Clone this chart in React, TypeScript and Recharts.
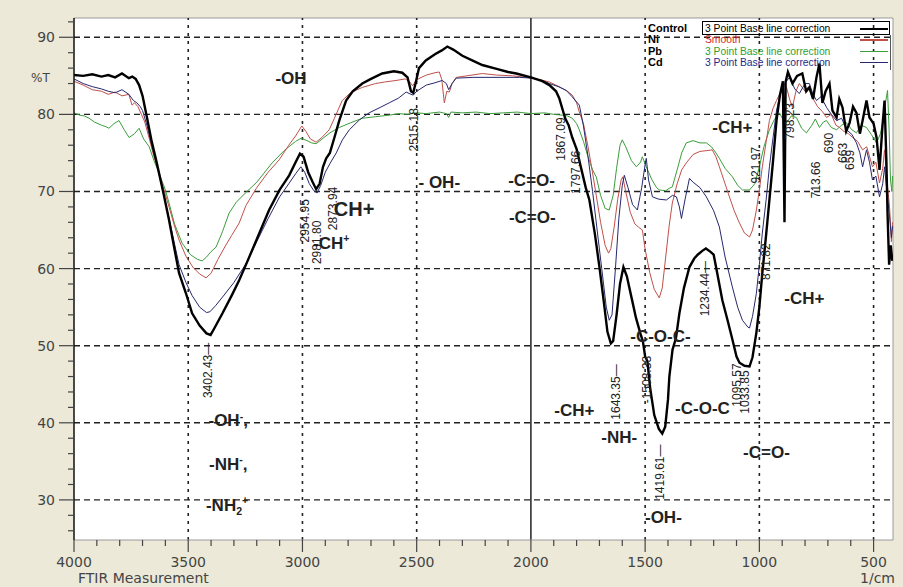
import React from "react";
import {
  CartesianGrid,
  Line,
  LineChart,
  ReferenceDot,
  ReferenceLine,
  XAxis,
  YAxis,
} from "recharts";

type Pt = [number, number]; // [wavenumber 1/cm, %T]

const CONTROL: Pt[] = [
  [4000, 85.1], [3960, 85.0], [3920, 85.2], [3880, 84.9], [3850, 85.1], [3820, 84.8], [3790, 85.3], [3760, 84.7],
  [3745, 84.9], [3730, 84.6], [3715, 83.8], [3700, 82.4], [3680, 79.5], [3660, 76.5], [3640, 74.0], [3610, 70.0],
  [3584, 66.3], [3560, 62.5], [3540, 59.4], [3510, 56.8], [3483, 54.2], [3450, 52.6], [3420, 51.6], [3402, 51.4],
  [3385, 52.3], [3350, 54.2], [3310, 56.5], [3277, 58.5], [3240, 61.0], [3200, 63.8], [3146, 67.6], [3100, 70.2],
  [3058, 72.1], [3030, 73.8], [3011, 74.9], [2995, 74.5], [2975, 72.5], [2955, 71.2], [2940, 70.3], [2925, 71.0],
  [2910, 73.2], [2896, 74.3], [2880, 75.0], [2860, 77.0], [2839, 79.2], [2809, 81.8], [2780, 83.0], [2738, 84.0],
  [2700, 84.6], [2651, 85.3], [2600, 85.6], [2563, 85.4], [2540, 84.8], [2525, 83.0], [2515, 82.8], [2505, 84.0],
  [2490, 86.0], [2460, 87.0], [2420, 87.8], [2390, 88.3], [2366, 88.8], [2340, 88.4], [2300, 87.6], [2250, 86.9],
  [2213, 86.4], [2150, 85.9], [2100, 85.5], [2064, 85.3], [2000, 84.8], [1950, 84.3], [1919, 83.8], [1890, 83.0],
  [1876, 82.1], [1867, 81.2], [1850, 79.5], [1835, 78.6], [1819, 77.0], [1800, 75.5], [1780, 73.0], [1760, 70.5],
  [1744, 68.9], [1720, 64.5], [1700, 60.2], [1680, 55.5], [1665, 51.8], [1650, 50.3], [1640, 50.6], [1625, 54.0],
  [1610, 58.0], [1595, 60.2], [1580, 59.0], [1560, 56.3], [1540, 53.6], [1520, 51.5], [1510, 50.6], [1500, 48.6],
  [1490, 48.0], [1478, 44.5], [1460, 41.0], [1440, 39.2], [1425, 38.6], [1412, 39.5], [1400, 43.0], [1394, 46.0],
  [1380, 49.5], [1365, 51.0], [1350, 54.2], [1330, 57.5], [1306, 60.2], [1285, 61.3], [1270, 61.8], [1250, 62.3],
  [1234, 62.6], [1215, 62.2], [1200, 61.8], [1185, 59.5], [1162, 55.9], [1140, 53.4], [1118, 50.8], [1100, 48.6],
  [1087, 47.8], [1065, 47.4], [1043, 47.3], [1030, 48.5], [1013, 51.7], [1000, 55.0], [987, 59.4], [970, 64.5],
  [956, 68.9], [940, 74.0], [925, 79.2], [910, 82.5], [897, 84.3], [890, 66.0], [885, 84.2], [875, 85.5],
  [855, 84.0], [835, 85.0], [812, 85.3], [795, 83.0], [781, 83.5], [765, 82.0], [750, 84.8], [737, 86.6],
  [724, 81.5], [710, 83.0], [693, 84.0], [680, 80.5], [662, 79.6], [650, 82.0], [636, 80.9], [620, 77.8],
  [605, 78.9], [590, 81.0], [575, 80.2], [560, 77.5], [548, 79.2], [531, 81.8], [518, 79.6], [500, 78.8],
  [487, 77.0], [474, 72.8], [461, 78.5], [452, 81.8], [444, 74.0], [439, 67.2], [432, 60.5], [425, 63.0], [418, 61.0],
];

const NI: Pt[] = [
  [4000, 84.3], [3960, 83.8], [3920, 83.2], [3880, 83.0], [3850, 82.6], [3820, 82.9], [3790, 82.4], [3760, 82.6],
  [3746, 81.2], [3735, 81.5], [3720, 81.0], [3705, 80.0], [3690, 79.0], [3670, 76.8], [3650, 74.5], [3628, 72.5],
  [3600, 69.6], [3584, 68.0], [3560, 65.5], [3540, 63.7], [3510, 61.6], [3480, 60.2], [3450, 59.3], [3422, 58.8],
  [3400, 59.4], [3370, 61.2], [3340, 62.8], [3310, 64.3], [3277, 65.9], [3247, 68.2], [3200, 70.5], [3150, 72.5],
  [3102, 74.1], [3060, 76.0], [3030, 77.2], [3003, 78.5], [2985, 77.8], [2965, 76.8], [2940, 76.4], [2915, 77.0],
  [2883, 78.0], [2860, 79.5], [2826, 81.8], [2790, 82.8], [2738, 83.5], [2680, 84.0], [2640, 84.2], [2590, 84.4],
  [2550, 84.6], [2530, 84.2], [2518, 83.7], [2500, 84.5], [2458, 85.1], [2420, 85.4], [2401, 85.5], [2390, 84.5],
  [2379, 81.5], [2368, 83.0], [2357, 82.9], [2345, 84.0], [2327, 84.8], [2280, 85.0], [2213, 85.3], [2150, 85.1],
  [2080, 85.0], [2020, 84.8], [1960, 84.5], [1919, 84.2], [1870, 83.5], [1840, 83.0], [1819, 82.5], [1800, 81.5],
  [1788, 80.3], [1770, 78.8], [1750, 75.8], [1730, 72.4], [1714, 69.5], [1695, 66.0], [1675, 63.0], [1660, 62.0],
  [1650, 62.6], [1635, 65.5], [1620, 69.0], [1605, 71.5], [1598, 71.9], [1585, 70.0], [1565, 67.3], [1545, 65.8],
  [1530, 65.4], [1512, 65.0], [1500, 62.5], [1480, 59.5], [1460, 57.3], [1438, 56.2], [1425, 57.5], [1410, 61.5],
  [1395, 65.5], [1381, 68.5], [1360, 71.0], [1340, 72.8], [1320, 73.7], [1290, 74.8], [1260, 75.2], [1230, 75.3],
  [1206, 75.4], [1190, 74.5], [1175, 73.2], [1150, 71.0], [1131, 69.3], [1110, 67.5], [1087, 65.9], [1065, 64.6],
  [1043, 64.1], [1030, 65.0], [1013, 67.6], [1000, 70.2], [987, 73.2], [970, 76.5], [956, 79.2], [940, 80.8],
  [925, 81.8], [905, 83.0], [890, 83.8], [881, 83.5], [868, 82.0], [855, 80.9], [840, 83.0], [825, 84.0],
  [800, 83.0], [785, 83.6], [768, 82.2], [745, 81.0], [725, 80.4], [706, 79.6], [685, 80.0], [665, 78.6],
  [649, 78.3], [630, 77.8], [610, 77.5], [592, 77.0], [570, 76.5], [548, 75.4], [530, 75.8], [505, 73.2],
  [490, 73.8], [474, 71.1], [460, 73.0], [452, 75.4], [440, 71.0], [430, 68.0], [422, 63.5], [417, 66.0],
];

const PB: Pt[] = [
  [4000, 80.2], [3975, 79.9], [3955, 79.8], [3934, 79.5], [3910, 79.0], [3880, 78.6], [3860, 78.4], [3847, 78.2],
  [3825, 78.8], [3803, 79.2], [3780, 78.0], [3759, 77.0], [3735, 77.5], [3715, 78.2], [3695, 76.8], [3671, 75.8],
  [3650, 74.0], [3628, 72.4], [3600, 70.2], [3584, 68.5], [3560, 65.8], [3527, 63.3], [3490, 61.8], [3460, 61.2],
  [3439, 61.0], [3420, 61.5], [3400, 62.2], [3378, 62.8], [3350, 64.8], [3321, 67.2], [3290, 68.6], [3250, 69.8],
  [3200, 71.2], [3133, 73.7], [3080, 75.3], [3030, 76.5], [3006, 76.9], [2980, 76.6], [2960, 76.3], [2940, 76.2],
  [2910, 76.9], [2880, 77.6], [2839, 78.3], [2790, 78.9], [2738, 79.5], [2680, 79.7], [2620, 79.9], [2576, 80.1],
  [2540, 80.0], [2500, 80.2], [2460, 80.1], [2400, 80.3], [2370, 80.1], [2360, 79.6], [2350, 80.3], [2300, 80.2],
  [2240, 80.3], [2180, 80.1], [2120, 80.2], [2060, 80.3], [2000, 80.1], [1940, 80.2], [1900, 80.0], [1862, 79.9],
  [1840, 79.8], [1819, 79.5], [1800, 78.8], [1788, 78.0], [1770, 76.5], [1750, 74.5], [1730, 72.8], [1714, 71.9],
  [1695, 69.5], [1675, 67.8], [1657, 67.6], [1640, 69.5], [1625, 73.0], [1610, 76.0], [1600, 76.7], [1585, 75.8],
  [1560, 74.0], [1538, 73.2], [1520, 73.8], [1512, 74.5], [1495, 73.2], [1470, 71.5], [1450, 70.5], [1438, 70.2],
  [1410, 70.1], [1395, 70.4], [1381, 70.6], [1360, 72.8], [1340, 75.0], [1320, 76.3], [1290, 76.6], [1260, 76.3],
  [1232, 76.3], [1210, 75.8], [1190, 75.0], [1175, 74.3], [1150, 73.0], [1118, 71.9], [1095, 70.8], [1074, 70.2],
  [1043, 70.2], [1020, 71.0], [1000, 73.2], [980, 75.8], [956, 78.0], [935, 79.3], [912, 80.2], [900, 79.5],
  [881, 78.9], [860, 79.8], [838, 79.6], [815, 78.2], [794, 77.6], [770, 78.6], [755, 79.4], [737, 78.3],
  [720, 79.0], [706, 79.2], [685, 78.3], [662, 78.0], [640, 78.6], [618, 78.9], [595, 78.0], [575, 77.6],
  [555, 78.6], [531, 78.3], [510, 77.4], [487, 76.3], [470, 77.5], [461, 78.9], [448, 81.5], [439, 83.1],
  [432, 78.0], [426, 71.5], [420, 70.0], [417, 72.0],
];

const CD: Pt[] = [
  [4000, 84.6], [3960, 84.0], [3920, 83.6], [3880, 83.3], [3850, 83.0], [3820, 82.8], [3790, 83.2], [3760, 82.6],
  [3740, 81.8], [3725, 81.5], [3710, 81.0], [3700, 80.5], [3680, 78.5], [3660, 76.0], [3640, 73.8], [3610, 70.0],
  [3584, 66.5], [3560, 63.2], [3540, 60.5], [3510, 58.2], [3483, 56.5], [3450, 55.0], [3420, 54.3], [3405, 54.4],
  [3380, 55.2], [3350, 56.3], [3300, 58.2], [3250, 60.5], [3200, 63.5], [3150, 66.5], [3100, 69.3], [3060, 71.0],
  [3030, 72.3], [3007, 73.2], [2990, 72.5], [2970, 71.0], [2950, 70.1], [2936, 69.8], [2920, 70.8], [2900, 72.5],
  [2880, 73.6], [2852, 75.0], [2825, 76.7], [2795, 78.0], [2750, 79.3], [2708, 80.2], [2660, 80.9], [2620, 81.5],
  [2580, 82.1], [2546, 82.9], [2525, 82.6], [2515, 82.5], [2500, 83.0], [2458, 83.8], [2420, 84.1], [2388, 84.4],
  [2370, 84.0], [2360, 83.2], [2345, 84.0], [2327, 84.7], [2250, 84.8], [2139, 84.8], [2050, 84.8], [1994, 84.7],
  [1950, 84.4], [1919, 84.0], [1880, 83.6], [1845, 83.1], [1820, 82.3], [1788, 81.2], [1770, 78.5], [1750, 74.5],
  [1730, 70.0], [1710, 65.0], [1690, 60.0], [1670, 55.0], [1657, 53.3], [1645, 54.0], [1630, 60.0], [1615, 66.5],
  [1600, 70.8], [1591, 72.1], [1575, 70.5], [1555, 68.3], [1534, 67.6], [1515, 70.5], [1500, 73.5], [1495, 74.3],
  [1485, 71.5], [1468, 69.3], [1440, 69.0], [1407, 68.9], [1380, 69.5], [1363, 69.3], [1350, 68.0], [1341, 66.5],
  [1325, 69.0], [1306, 71.7], [1290, 71.2], [1260, 70.5], [1232, 69.3], [1200, 67.5], [1175, 65.4], [1150, 61.5],
  [1118, 57.6], [1095, 55.0], [1074, 53.3], [1050, 52.4], [1043, 52.3], [1030, 53.8], [1013, 56.8], [1000, 60.5],
  [987, 64.6], [970, 69.0], [956, 73.2], [940, 77.0], [925, 80.5], [905, 83.0], [890, 84.0], [868, 84.8],
  [845, 83.3], [825, 82.7], [800, 84.0], [781, 84.0], [765, 82.6], [750, 81.8], [730, 82.3], [706, 80.9],
  [685, 80.0], [662, 79.2], [640, 79.5], [618, 78.0], [595, 77.4], [575, 76.3], [560, 75.0], [548, 73.2],
  [531, 75.4], [518, 73.8], [505, 71.5], [490, 72.0], [474, 69.3], [460, 71.0], [452, 73.2], [440, 69.5],
  [430, 66.7], [422, 64.0], [417, 65.5],
];

const X_TICKS = [
  4000, 3900, 3800, 3700, 3600, 3500, 3400, 3300, 3200, 3100, 3000, 2900, 2800, 2700, 2600, 2500, 2400, 2300,
  2200, 2100, 2000, 1900, 1800, 1700, 1600, 1500, 1400, 1300, 1200, 1100, 1000, 900, 800, 700, 600, 500,
];
const Y_TICKS = [
  26, 28, 30, 32, 34, 36, 38, 40, 42, 44, 46, 48, 50, 52, 54, 56, 58, 60, 62, 64, 66, 68, 70, 72, 74, 76, 78,
  80, 82, 84, 86, 88, 90, 92,
];
const X_GRID = [3500, 3000, 2500, 1500, 1000, 500];
const Y_GRID = [90, 80, 70, 60, 50, 40, 30];

// group annotations: text (^x superscript, _x subscript), wavenumber, %T
const GROUPS: [string, number, number][] = [
  ["-OH", 3050, 84.7],
  ["CH+", 2774, 67.6],
  ["-CH^+", 2874, 63.3],
  ["- OH-", 2401, 71.2],
  ["-C=O-", 1997, 71.5],
  ["-C=O-", 1994, 66.7],
  ["-CH+", 1118, 78.3],
  ["-CH+", 803, 56.2],
  ["-C-O-C-", 1433, 51.3],
  ["-C-O-C", 1249, 41.9],
  ["-CH+", 1810, 41.7],
  ["-NH-", 1613, 38.2],
  ["-OH-", 1420, 27.8],
  ["-C=O-", 969, 36.2],
  ["-OH^-,", 3325, 40.3],
  ["-NH^-,", 3325, 34.7],
  ["-NH_2^+", 3330, 29.4],
];

// peak position labels (drawn vertically)
const PEAKS: [string, number, number][] = [
  ["3402.43\u2014", 3413, 46.8],
  ["2954.95", 2988, 66.2],
  ["2981.80", 2936, 63.4],
  ["2873.94", 2866, 67.8],
  ["2515.18", 2511, 78.0],
  ["1867.09", 1867, 76.8],
  ["1797.66", 1801, 72.5],
  ["1643.35\u2014", 1626, 44.0],
  ["-1508.33", 1490, 45.6],
  ["1419.61\u2014", 1433, 33.6],
  ["1234.44\u2014", 1236, 57.4],
  ["1095.57", 1100, 44.9],
  ["1033.85", 1065, 44.0],
  ["921.97", 1013, 73.4],
  ["871.82", 969, 60.9],
  ["798.23", 864, 79.1],
  ["713.66", 750, 71.5],
  ["690", 693, 76.3],
  ["663", 636, 75.0],
  ["659", 605, 74.1],
];

const X_DOMAIN: [number, number] = [415, 4000];
const Y_DOMAIN: [number, number] = [24.8, 92.5];

const SERIES = [
  { name: "Pb", note: "3 Point Base line correction", color: "#3a9e3a", text: "#2fa02f", width: 1, data: PB },
  { name: "Ni", note: "Smooth", color: "#c0504a", text: "#d02a2a", width: 1, data: NI },
  { name: "Cd", note: "3 Point Base line correction", color: "#26276e", text: "#1e2a8a", width: 1, data: CD },
  { name: "Control", note: "3 Point Base line correction", color: "#000000", text: "#000000", width: 2.4, data: CONTROL },
];
const LEGEND_ORDER = ["Control", "Ni", "Pb", "Cd"];

const toRows = (pts: Pt[]) => pts.map(([w, t]) => ({ w, t }));

function rich(s: string, size: number) {
  const parts: React.ReactNode[] = [];
  let buf = "";
  let shift = 0;
  const flush = () => {
    if (buf) {
      parts.push(
        <tspan key={parts.length} dy={-shift} fontSize={size}>
          {buf}
        </tspan>
      );
      shift = 0;
      buf = "";
    }
  };
  for (let i = 0; i < s.length; i++) {
    const c = s[i];
    if ((c === "^" || c === "_") && i + 1 < s.length) {
      flush();
      const target = c === "^" ? -size * 0.4 : size * 0.25;
      parts.push(
        <tspan key={parts.length} dy={target - shift} fontSize={size * 0.62}>
          {s[i + 1]}
        </tspan>
      );
      shift = target;
      i++;
    } else {
      buf += c;
    }
  }
  flush();
  return parts;
}

function YTick(props: any) {
  const { x, y, payload } = props;
  const v = payload.value;
  const major = v % 10 === 0;
  return (
    <g>
      <line x1={x - (major ? 15 : 6)} x2={x} y1={y} y2={y} stroke="#444" strokeWidth={1.2} />
      {major && (
        <text x={x - 19} y={y + 5} textAnchor="end" fontSize={14} fill="#444" fontFamily="DejaVu Sans">
          {v}
        </text>
      )}
    </g>
  );
}

function XTick(props: any) {
  const { x, y, payload } = props;
  const v = payload.value;
  const major = v % 500 === 0;
  return (
    <g>
      <line x1={x} x2={x} y1={y} y2={y + (major ? 12 : 6)} stroke="#444" strokeWidth={1.2} />
      {major && (
        <text x={x} y={y + 27} textAnchor="middle" fontSize={14} fill="#444" fontFamily="DejaVu Sans">
          {v}
        </text>
      )}
    </g>
  );
}

export default function App() {
  return (
    <div
      style={{
        position: "absolute",
        left: 0,
        top: 0,
        width: 903,
        height: 587,
        background: "#ECE9D8",
        overflow: "hidden",
      }}
    >
      <LineChart width={903} height={587} margin={{ top: 18, right: 10, bottom: 0, left: 0 }}>
        <CartesianGrid horizontal={false} vertical={false} fill="#ffffff" />
        <XAxis
          dataKey="w"
          type="number"
          domain={X_DOMAIN}
          reversed
          allowDataOverflow
          ticks={X_TICKS}
          interval={0}
          tick={<XTick />}
          tickLine={false}
          tickSize={0}
          tickMargin={0}
          height={47}
          axisLine={{ stroke: "#9a9a9a" }}
          label={{
            content: (p: any) => {
              const vb = p.viewBox;
              return (
                <g fontFamily="DejaVu Sans" fontSize={14} fill="#444">
                  <text x={vb.x + 4} y={vb.y + 43}>FTIR Measurement</text>
                  <text x={vb.x + vb.width + 2} y={vb.y + 43} textAnchor="end">1/cm</text>
                </g>
              );
            },
          }}
        />
        <YAxis
          dataKey="t"
          type="number"
          domain={Y_DOMAIN}
          allowDataOverflow
          ticks={Y_TICKS}
          interval={0}
          tick={<YTick />}
          tickLine={false}
          tickSize={0}
          tickMargin={0}
          width={74}
          axisLine={{ stroke: "#111", strokeWidth: 1.5 }}
          label={{
            content: (p: any) => {
              const vb = p.viewBox;
              const y = vb.y + ((Y_DOMAIN[1] - 84.8) / (Y_DOMAIN[1] - Y_DOMAIN[0])) * vb.height;
              return (
                <text x={31} y={y + 5} fontFamily="DejaVu Sans" fontSize={12} fill="#444">
                  %T
                </text>
              );
            },
          }}
        />
        <ReferenceLine y={Y_DOMAIN[1]} stroke="#9a9a9a" />
        <ReferenceLine x={X_DOMAIN[0]} stroke="#9a9a9a" />
        {Y_GRID.map((v) => (
          <ReferenceLine key={"y" + v} y={v} stroke="#222" strokeWidth={1.4} strokeDasharray="6 4" />
        ))}
        {X_GRID.map((v) => (
          <ReferenceLine key={"x" + v} x={v} stroke="#222" strokeWidth={1.6} strokeDasharray="3 5" />
        ))}
        <ReferenceLine x={2000} stroke="#222" strokeWidth={1.5} />
        {SERIES.map((s) => (
          <Line
            key={s.name}
            data={toRows(s.data)}
            dataKey="t"
            name={s.name}
            type="linear"
            stroke={s.color}
            strokeWidth={s.width}
            dot={false}
            isAnimationActive={false}
          />
        ))}
        {GROUPS.map(([label, w, t], i) => (
          <ReferenceDot
            key={"g" + i}
            x={w}
            y={t}
            r={0}
            ifOverflow="visible"
            shape={(p: any) => (
              <text
                x={p.cx}
                y={p.cy + 6}
                textAnchor="middle"
                fontFamily="Liberation Sans"
                fontWeight="bold"
                fill="#222"
              >
                {rich(label, label === "CH+" ? 20 : 17)}
              </text>
            )}
          />
        ))}
        {PEAKS.map(([label, w, t], i) => (
          <ReferenceDot
            key={"p" + i}
            x={w}
            y={t}
            r={0}
            ifOverflow="visible"
            shape={(p: any) => (
              <text
                x={p.cx}
                y={p.cy + 4}
                textAnchor="middle"
                fontFamily="Liberation Sans Narrow, Liberation Sans"
                fontSize={12}
                fill="#222"
                transform={`rotate(-90 ${p.cx} ${p.cy})`}
              >
                {label}
              </text>
            )}
          />
        ))}
      </LineChart>
      {LEGEND_ORDER.map((n, i) => {
        const s = SERIES.find((x) => x.name === n)!;
        const top = 23 + i * 11.3;
        return (
          <React.Fragment key={n}>
            <div
              style={{
                position: "absolute",
                left: 648,
                top,
                fontFamily: "Liberation Sans",
                fontWeight: "bold",
                fontSize: 11,
                lineHeight: "11px",
                color: "#000",
              }}
            >
              {s.name}
            </div>
            <div
              style={{
                position: "absolute",
                left: 705,
                top,
                fontFamily: "Liberation Sans",
                fontSize: 10.3,
                lineHeight: "11px",
                color: s.text,
              }}
            >
              {s.note}
            </div>
            <div
              style={{
                position: "absolute",
                left: 860,
                top: top + 5,
                width: 28,
                height: s.width > 2 ? 2 : 1.5,
                background: s.color,
              }}
            />
          </React.Fragment>
        );
      })}
      <div
        style={{
          position: "absolute",
          left: 702,
          top: 21,
          width: 188,
          height: 14,
          border: "1px solid #000",
          boxSizing: "border-box",
        }}
      />
      <div style={{ position: "absolute", left: 890, top: 35, width: 1, height: 35, background: "#555" }} />
    </div>
  );
}
